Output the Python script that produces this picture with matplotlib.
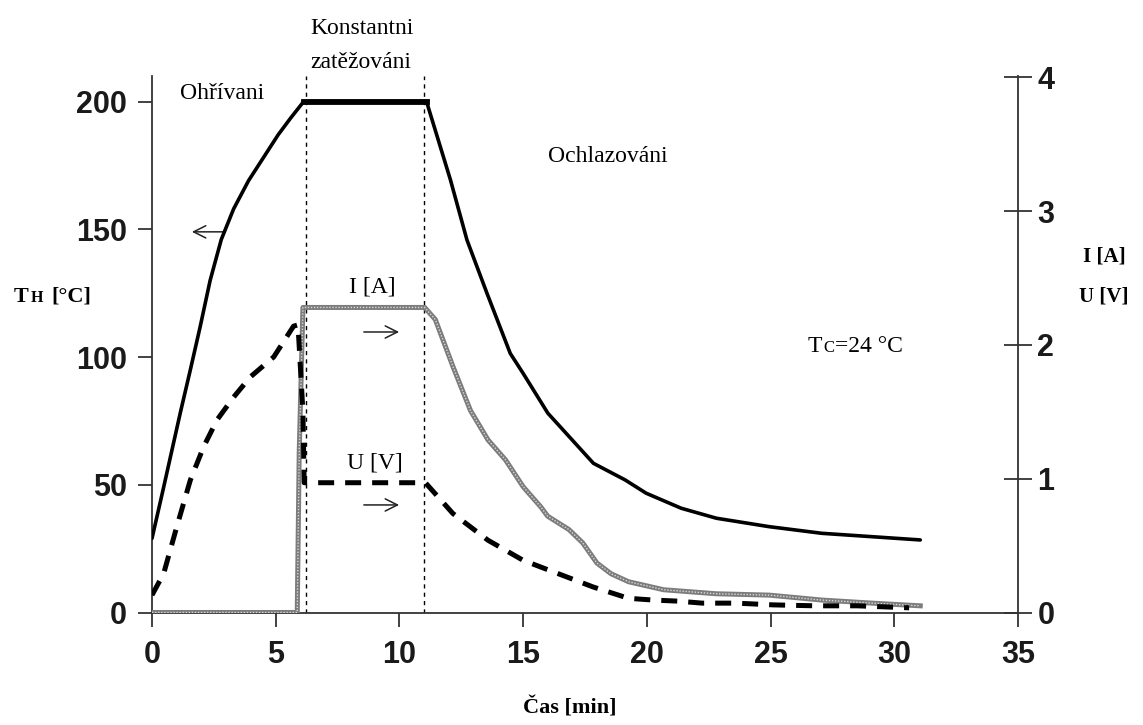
import numpy as np
import matplotlib
matplotlib.use('Agg')
import matplotlib.pyplot as plt

# surface temperature T_H [degC], left axis
th_time = [0, 0.47, 1.14, 1.55, 1.95, 2.35, 2.8, 3.3, 3.9, 4.5, 5.1, 5.6, 6.13,
           11.1, 11.18, 12.06, 12.73, 13.54, 14.48, 15.0, 16.0, 17.84, 19.12,
           19.97, 21.39, 22.81, 24.94, 27.07, 31.05]
th_temp = [29, 49, 78, 95, 112, 130, 146, 158, 169, 178, 187, 193.5, 200,
           200, 197.3, 169.4, 145.8, 124.9, 101.4, 93.6, 78, 58.4, 51.9,
           46.7, 40.8, 36.9, 33.6, 31, 28.4]
plateau = (12, 14)  # index range of the constant-load segment

# current I [A], right axis
i_time = [0, 5.87, 5.95, 6.1, 11.02, 11.45, 12.16, 12.87, 13.58, 14.29, 15.0,
          15.71, 15.99, 16.85, 17.41, 17.98, 18.55, 19.26, 20.68, 22.81, 24.94,
          27.07, 29.2, 31.05]
i_val = [0, 0, 1.2, 2.28, 2.28, 2.19, 1.84, 1.51, 1.29, 1.14, 0.94,
         0.79, 0.72, 0.62, 0.52, 0.37, 0.29, 0.23, 0.17, 0.14, 0.13,
         0.093, 0.069, 0.05]

# voltage U [V], right axis
u_time = [0, 0.47, 1.0, 1.55, 2.09, 2.63, 3.3, 3.97, 4.92, 5.72, 5.9, 6.1,
          6.15, 11.05, 12.16, 13.58, 15.0, 16.42, 17.84, 19.26, 20.26, 21.25,
          22.24, 23.6, 25.1, 26.8, 28.5, 30.6]
u_val = [0.13, 0.29, 0.64, 0.99, 1.24, 1.44, 1.61, 1.76, 1.91, 2.14, 2.15, 1.5,
         0.97, 0.97, 0.74, 0.54, 0.39, 0.29, 0.19, 0.106, 0.093, 0.085,
         0.07, 0.07, 0.057, 0.05, 0.05, 0.035]

phase_bounds = [6.22, 11.0]

x_ticks = [0, 5, 10, 15, 20, 25, 30, 35]
left_ticks = [0, 50, 100, 150, 200]
right_ticks = [0, 1, 2, 3, 4]

serif = 'Liberation Serif'
sans = 'Liberation Sans'

fig = plt.figure(figsize=(11.43, 7.25), dpi=100)
ax = fig.add_axes([152/1143, 1-612.5/725, (1018-152)/1143, (612.5-76)/725])
ax2 = ax.twinx()

ax.set_xlim(0, 35)
ax.set_ylim(0, 210)
ax2.set_ylim(0, 4.01)

spine_c = '#333333'
for a in (ax, ax2):
	for s in a.spines.values():
		s.set_color(spine_c)
		s.set_linewidth(1.3)
	a.spines['top'].set_visible(False)
ax.spines['right'].set_visible(False)
ax2.spines['left'].set_visible(False)
ax2.spines['bottom'].set_visible(False)

ax.set_xticks(x_ticks)
ax.set_yticks(left_ticks)
ax2.set_yticks(right_ticks)
ax.tick_params(axis='both', direction='out', length=10, width=1.3, color=spine_c)
ax.tick_params(axis='x', pad=10)
ax.tick_params(axis='y', pad=8)
ax2.tick_params(axis='y', direction='inout', length=20, width=1.3, color=spine_c, pad=4)
for lab in ax.get_xticklabels() + ax.get_yticklabels() + ax2.get_yticklabels():
	lab.set_fontfamily(sans)
	lab.set_fontweight('bold')
	lab.set_fontsize(22)
	lab.set_color('#1a1a1a')

# phase boundaries
for xb in phase_bounds:
	ax.axvline(xb, color='black', lw=1.0, ls=(0, (3, 3)), zorder=1)

# temperature curve
ax.plot(th_time, th_temp, color='black', lw=2.6, solid_capstyle='round',
		solid_joinstyle='round', zorder=4)
ax.plot(th_time[plateau[0]:plateau[1]], th_temp[plateau[0]:plateau[1]],
		color='black', lw=4.2, zorder=4)

# current: grey textured line
ax2.plot(i_time, i_val, color='#7c7c7c', lw=3.6, zorder=3)
ax2.plot(i_time, i_val, color='#d8d8d8', lw=1.0, ls=(0, (1, 1.2)), zorder=3)

# voltage: heavy dashed line
ax2.plot(u_time, u_val, color='black', lw=3.6, ls=(0, (3.2, 2.2)), zorder=5)

# labels inside the plot
ax.text(1.15, 203, 'Ohřívani', family=serif, fontsize=17, va='center', ha='left')
ax.text(16.0, 178.5, 'Ochlazováni', family=serif, fontsize=17, va='center', ha='left')
fig.text(310/1143, 1-28/725, 'Konstantni', family=serif, fontsize=17, va='center', ha='left')
fig.text(310/1143, 1-62/725, 'zatěžováni', family=serif, fontsize=17, va='center', ha='left')
ax.text(8.9, 127.5, 'I [A]', family=serif, fontsize=17, va='center', ha='center')
ax.text(9.0, 58.5, 'U [V]', family=serif, fontsize=17, va='center', ha='center')

arrow = dict(arrowstyle='->', lw=1.1, color='#222222', mutation_scale=22)
ax.annotate('', xy=(1.5, 149), xytext=(2.98, 149), arrowprops=arrow)
ax.annotate('', xy=(10.1, 109.8), xytext=(8.45, 109.8), arrowprops=arrow)
ax.annotate('', xy=(10.1, 42.1), xytext=(8.45, 42.1), arrowprops=arrow)

# T_C = 24 degC note
fig.text(808/1143, 1-352/725, 'T', family=serif, fontsize=17, va='baseline', ha='left')
fig.text(823/1143, 1-352/725, 'C', family=serif, fontsize=12, va='baseline', ha='left')
fig.text(835/1143, 1-352/725, '=24 °C', family=serif, fontsize=17, va='baseline', ha='left')

# axis titles
fig.text(570/1143, 1-708/725, 'Čas [min]', family=serif, fontsize=16, fontweight='bold',
		 va='center', ha='center')
fig.text(14/1143, 1-302/725, 'T', family=serif, fontsize=16, fontweight='bold', va='baseline')
fig.text(31/1143, 1-302/725, 'H', family=serif, fontsize=11.5, fontweight='bold', va='baseline')
fig.text(51/1143, 1-302/725, '[°C]', family=serif, fontsize=16, fontweight='bold', va='baseline')
fig.text(1104/1143, 1-257/725, 'I [A]', family=serif, fontsize=15, fontweight='bold',
		 va='center', ha='center')
fig.text(1104/1143, 1-297/725, 'U [V]', family=serif, fontsize=15, fontweight='bold',
		 va='center', ha='center')

fig.savefig('out.png', dpi=100)
